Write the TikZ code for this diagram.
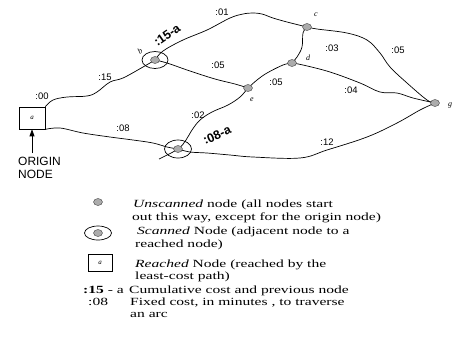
\documentclass[tikz,border=0pt]{standalone}
\usepackage{fontspec}
\setmainfont{Liberation Serif}
\newfontfamily\lsans{Liberation Sans}
\newfontfamily\legfont[FakeStretch=1.42]{Liberation Serif}
\usetikzlibrary{shapes.geometric,arrows.meta,backgrounds}
\begin{document}
\begin{tikzpicture}[x=1bp,y=-1bp,
  arc/.style={line width=0.7bp, black},
  cost/.style={font=\lsans\fontsize{9.5}{10}\selectfont, inner sep=0},
  bcost/.style={font=\lsans\bfseries\fontsize{12.5}{13}\selectfont, inner sep=0},
  lbl/.style={font=\itshape\fontsize{8}{9}\selectfont, inner sep=0},
  dotnode/.style={ellipse, fill=gray!65, draw=black!75, line width=0.4bp, minimum width=9bp, minimum height=7bp, inner sep=0},
  scanned/.style={ellipse, draw, line width=0.7bp, minimum width=26bp, minimum height=17bp, inner sep=0,
    path picture={\fill[gray!65, draw=black!75, line width=0.4bp] (path picture bounding box.center) ellipse (4.5bp and 3.5bp);}},
  reached/.style={draw, line width=0.7bp, minimum width=26bp, minimum height=22bp, inner sep=0, font=\itshape\fontsize{7}{8}\selectfont},
  legtext/.style={font=\legfont\fontsize{11}{13}\selectfont, anchor=base west, inner sep=0},
]
\useasboundingbox (0,0) rectangle (454,337);

% nodes
\node[reached] (a) at (32,118) {a};
\node[scanned] (b) at (155,60) {};
\node[scanned, minimum width=27bp, minimum height=18bp] (f) at (178,149) {};
\node[dotnode] (c) at (307,27) {};
\node[dotnode] (d) at (292,63) {};
\node[dotnode] (e) at (248,88) {};
\node[dotnode] (g) at (435,103) {};
\coordinate (ftail) at (159,159);

% edges
\begin{scope}[on background layer]
\draw[arc] plot[smooth, tension=0.6] coordinates {(a.north east) (53,100) (67,97) (87,96) (97,92) (110,82) (123,78) (143,67) (b.center)};
\draw[arc] plot[smooth, tension=0.6] coordinates {(b.center) (163,51) (183,40) (207,30) (230,18) (243,14) (253,13) (262,14) (273,18) (287,22) (c.center)};
\draw[arc] plot[smooth, tension=0.6] coordinates {(b.center) (167,63) (190,71) (215,79) (235,84) (e.center)};
\draw[arc] plot[smooth, tension=0.6] coordinates {(e.center) (240,97) (228,105) (212,112) (200,120) (192,130) (186,140) (f.center) (ftail)};
\draw[arc] plot[smooth, tension=0.6] coordinates {(a.south east) (60,128) (83,133) (110,137) (133,140) (153,143) (167,147) (f.center)};
\draw[arc] plot[smooth, tension=0.6] coordinates {(f.center) (190,152) (207,153) (230,155) (253,157) (300,158) (327,150) (367,137) (397,123) (420,110) (g.center)};
\draw[arc] plot[smooth, tension=0.6] coordinates {(c.center) (317,29) (347,33) (367,40) (380,53) (390,67) (407,83) (427,100) (g.center)};
\draw[arc] plot[smooth, tension=0.6] coordinates {(c.center) (303,33) (302,47) (297,57) (d.center)};
\draw[arc] plot[smooth, tension=0.6] coordinates {(d.center) (303,65) (330,72) (360,83) (380,92) (397,93) (413,98) (g.center)};
\draw[arc] plot[smooth, tension=0.6] coordinates {(e.center) (257,80) (267,73) (283,65) (d.center)};
\end{scope}

% node labels
\node[lbl, rotate=35] (lb) at (140,51) {b};
\node[lbl] (lc) at (316,15) {c};
\node[lbl] (ld) at (308,58) {d};
\node[lbl] (le) at (252,100) {e};
\node[lbl] (lg) at (450,105) {g};

% cost labels
\node[cost] (k00) at (42,96) {:00};
\node[cost] (k15) at (105,77) {:15};
\node[cost] (k08) at (123,128) {:08};
\node[cost] (k02) at (198,115) {:02};
\node[cost] (k05a) at (218,65) {:05};
\node[cost] (k01) at (222,12) {:01};
\node[cost] (k05b) at (276,82) {:05};
\node[cost] (k03) at (332,48) {:03};
\node[cost] (k05c) at (398,50) {:05};
\node[cost] (k04) at (351,90) {:04};
\node[cost] (k12) at (327,142) {:12};
\node[bcost, rotate=35] (cb) at (167,35) {:15-a};
\node[bcost, rotate=24] (cf) at (217,135) {:08-a};

% origin label
\node[font=\lsans\fontsize{12}{13}\selectfont, align=left, anchor=north west, inner sep=0] (orig) at (18,157) {ORIGIN\\NODE};
\draw[line width=0.8bp, -{Triangle[width=5bp,length=7bp]}] (a.south |- 0,153) -- (a.south);

% legend
\node[dotnode] (lu) at (98,202) {};
\node[scanned, minimum width=27bp, minimum height=14bp] (ls) at (98,233) {};
\node[reached, minimum width=24bp, minimum height=17bp] (lr) at (100,263) {a};
\node[legtext] (t1) at (133,207) {\textit{Unscanned} node (all nodes start};
\node[legtext] (t2) at (132,220) {out this way, except for the origin node)};
\node[legtext] (t3) at (137,234) {\textit{Scanned} Node (adjacent node to a};
\node[legtext] (t4) at (135,247) {reached node)};
\node[legtext] (t5) at (135,267) {\textit{Reached} Node (reached by the};
\node[legtext] (t6) at (135,279) {least-cost path)};
\node[legtext] (t7) at (83,293) {\textbf{:15} - a};
\node[legtext] (t8) at (129,293) {Cumulative cost and previous node};
\node[legtext] (t9) at (88,305) {:08};
\node[legtext] (t10) at (130,305) {Fixed cost, in minutes , to traverse};
\node[legtext] (t11) at (130,317) {an arc};
\end{tikzpicture}
\end{document}
